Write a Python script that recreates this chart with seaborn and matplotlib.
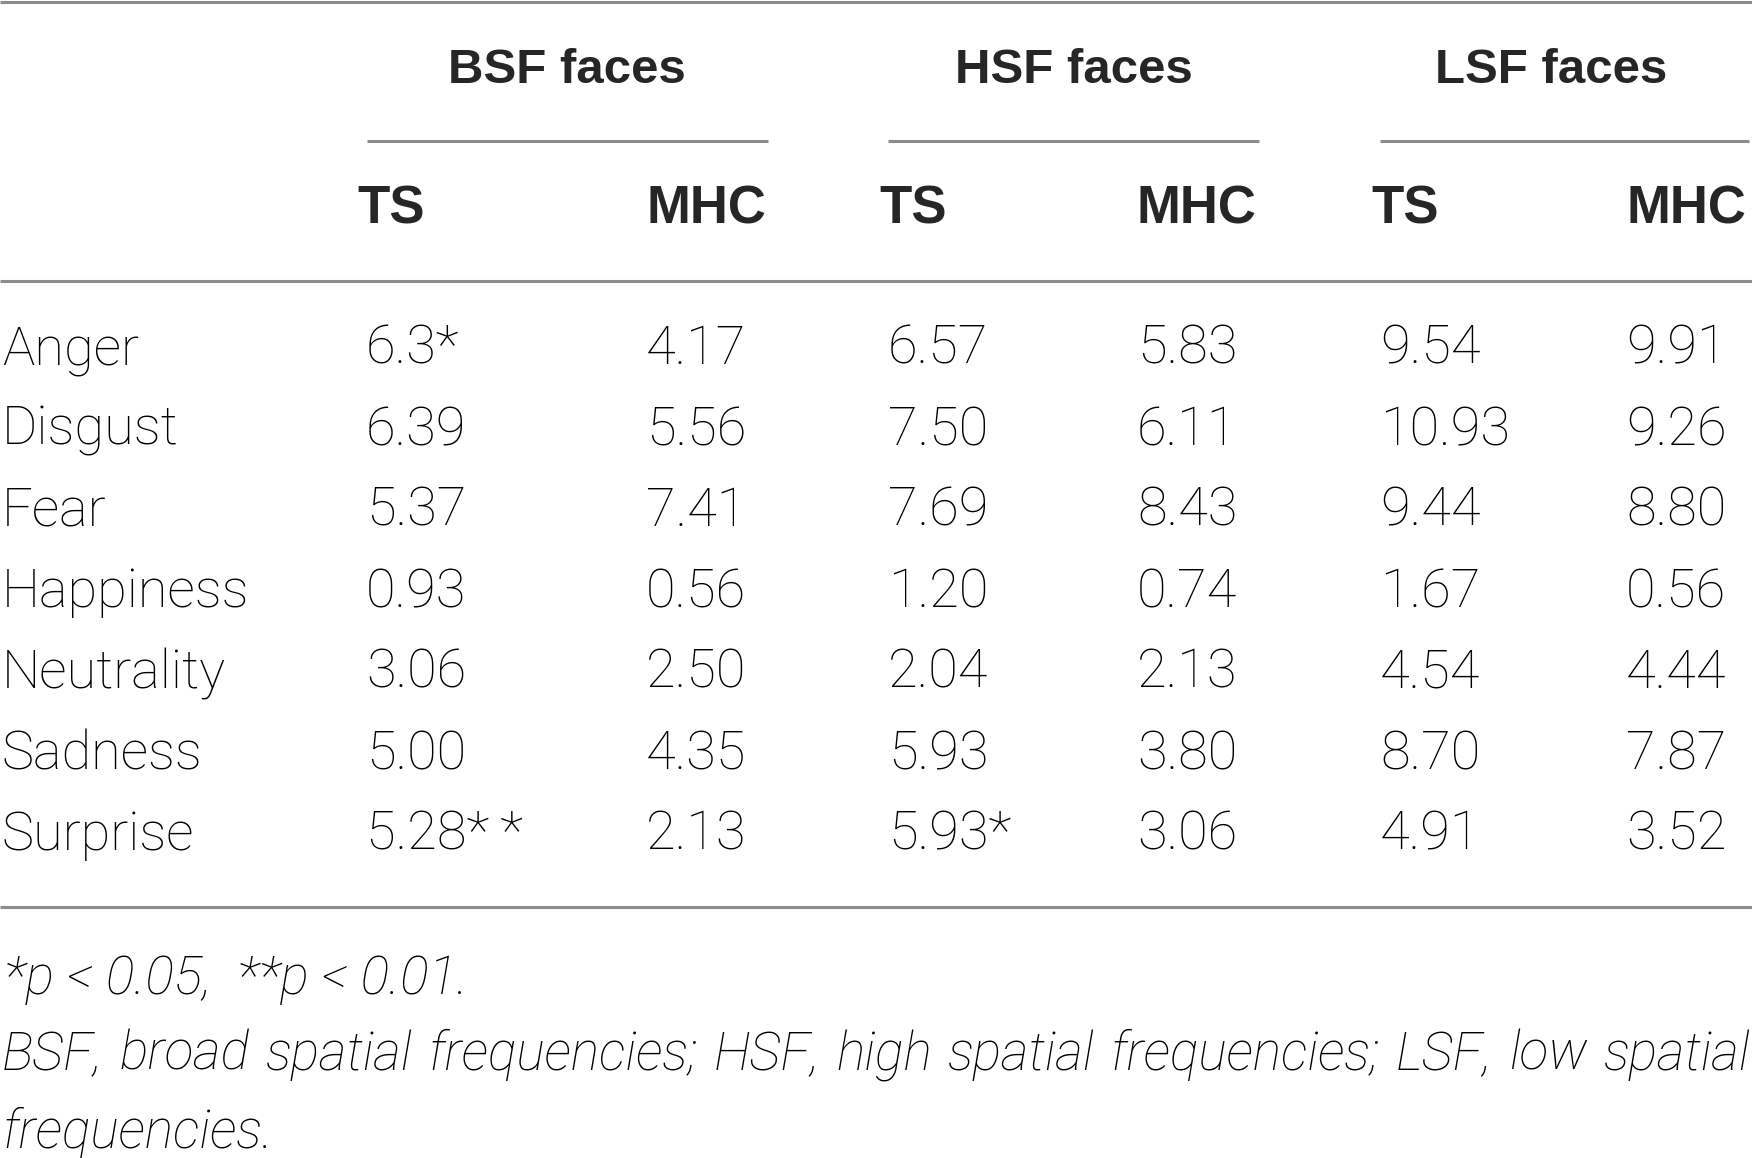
import matplotlib
matplotlib.use('Agg')
import matplotlib.pyplot as plt
import seaborn as sns
from matplotlib import font_manager as fm

# table content
emotions = ['Anger', 'Disgust', 'Fear', 'Happiness', 'Neutrality', 'Sadness', 'Surprise']
groups = ['BSF faces', 'HSF faces', 'LSF faces']
subcols = ['TS', 'MHC']
bsf_ts = ['6.3*', '6.39', '5.37', '0.93', '3.06', '5.00', '5.28**']
bsf_mhc = ['4.17', '5.56', '7.41', '0.56', '2.50', '4.35', '2.13']
hsf_ts = ['6.57', '7.50', '7.69', '1.20', '2.04', '5.93', '5.93*']
hsf_mhc = ['5.83', '6.11', '8.43', '0.74', '2.13', '3.80', '3.06']
lsf_ts = ['9.54', '10.93', '9.44', '1.67', '4.54', '8.70', '4.91']
lsf_mhc = ['9.91', '9.26', '8.80', '0.56', '4.44', '7.87', '3.52']
note_sig = '*p < 0.05,  **p < 0.01.'
note_abbr = ('BSF, broad spatial frequencies; HSF, high spatial frequencies; '
             'LSF, low spatial')
note_abbr_end = 'frequencies.'

sns.set_theme(style='white')

# pick a light face for body text if one is installed
fonts = fm.fontManager.ttflist
has_roboto_light = any(f.name == 'Roboto' and f.weight in (300, 'light') for f in fonts)
body = dict(family='Roboto', weight='light') if has_roboto_light else dict(family='Liberation Sans')
bold = dict(family='Liberation Sans', weight='bold')

W, H = 1752, 1158
fig = plt.figure(figsize=(W / 100, H / 100), dpi=100)
ax = fig.add_axes([0, 0, 1, 1])
ax.set_xlim(0, W)
ax.set_ylim(H, 0)
ax.axis('off')

rule = dict(color='#8c8c8c', lw=2.2, solid_capstyle='butt')

# horizontal rules
ax.plot([0, W], [2, 2], **rule)
ax.plot([0, W], [281, 281], **rule)
ax.plot([0, W], [907, 907], **rule)

# column positions (left edges of TS and MHC columns per group)
col_x = [(366, 646), (888, 1137), (1380, 1626)]
span_x = [(367, 768), (888, 1259), (1380, 1749)]
group_cx = [567, 1074, 1551]

for g, label in enumerate(groups):
    ax.text(group_cx[g], 83, label, ha='center', va='baseline', fontsize=35.5, **bold)
    x0, x1 = span_x[g]
    ax.plot([x0, x1], [141, 141], **rule)
    ax.text(col_x[g][0] - 9, 224, subcols[0], ha='left', va='baseline', fontsize=38, **bold)
    ax.text(col_x[g][1], 224, subcols[1], ha='left', va='baseline', fontsize=38, **bold)

columns = [bsf_ts, bsf_mhc, hsf_ts, hsf_mhc, lsf_ts, lsf_mhc]
xs = [x for pair in col_x for x in pair]
row_y0, row_step = 364, 81
for i, emo in enumerate(emotions):
    y = row_y0 + i * row_step
    ax.text(2, y, emo, ha='left', va='baseline', fontsize=39, color='black', **body)
    for x, col in zip(xs, columns):
        ax.text(x, y, col[i].replace('**', '*\u2009*'), ha='left', va='baseline',
                fontsize=39, color='black', **body)

# footnotes
foot = dict(body, style='italic')
ax.text(4, 994, note_sig, ha='left', va='baseline', fontsize=38.5, color='black', **foot)

# justified second line
renderer = fig.canvas.get_renderer()
words = note_abbr.split()
items = [ax.text(0, 1070, w, ha='left', va='baseline', fontsize=38.5, color='black', **foot)
         for w in words]
widths = [t.get_window_extent(renderer).width for t in items]
gap = (W - 4 - sum(widths)) / (len(words) - 1)
x = 2
for t, w in zip(items, widths):
    t.set_x(x)
    x += w + gap

ax.text(2, 1148, note_abbr_end, ha='left', va='baseline', fontsize=38.5, color='black', **foot)

fig.savefig('out.png', dpi=100, facecolor='white')
